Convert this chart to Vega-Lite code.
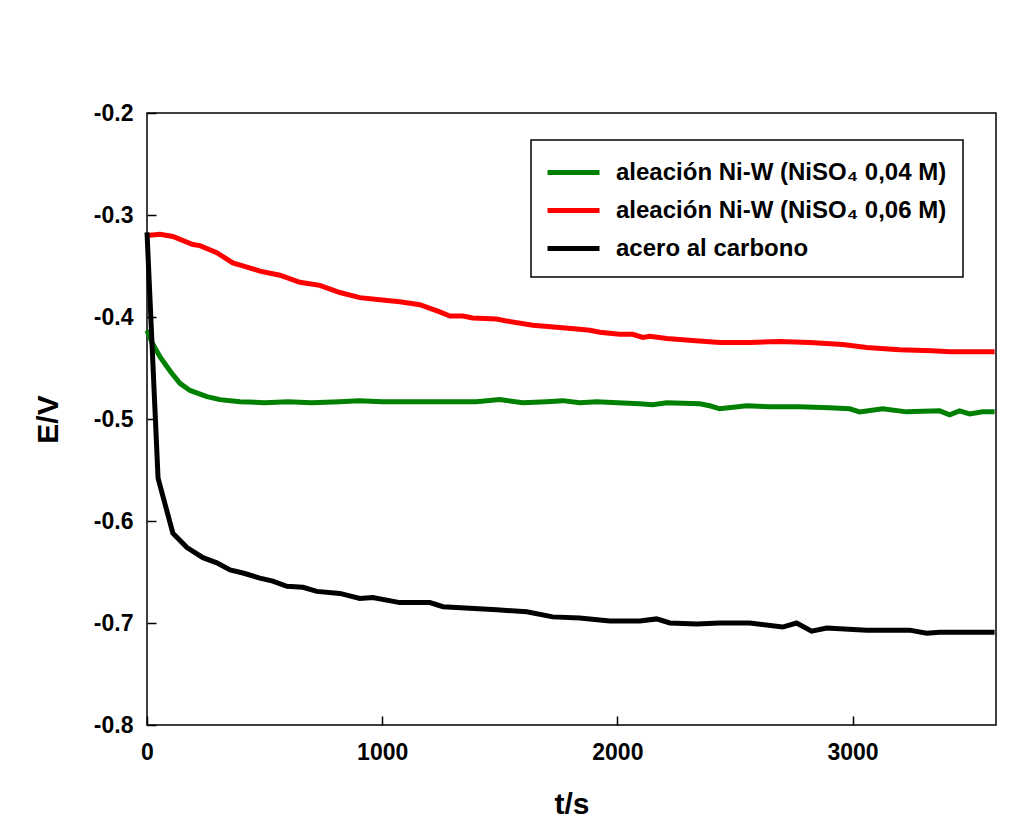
{
  "$schema": "https://vega.github.io/schema/vega-lite/v6.json",
  "width": 849,
  "height": 612,
  "autosize": "none",
  "padding": {"left": 147, "top": 113, "right": 26, "bottom": 91},
  "background": "white",
  "config": {
    "view": {"stroke": "black", "strokeWidth": 1.5},
    "font": "Liberation Sans",
    "legend": {"strokeWidth": 1.5}
  },
  "data": {
    "values": [
      {"t": 0, "E": -0.413, "s": "aleación Ni-W (NiSO₄ 0,04 M)"},
      {"t": 21, "E": -0.425, "s": "aleación Ni-W (NiSO₄ 0,04 M)"},
      {"t": 55, "E": -0.439, "s": "aleación Ni-W (NiSO₄ 0,04 M)"},
      {"t": 98, "E": -0.453, "s": "aleación Ni-W (NiSO₄ 0,04 M)"},
      {"t": 140, "E": -0.465, "s": "aleación Ni-W (NiSO₄ 0,04 M)"},
      {"t": 183, "E": -0.472, "s": "aleación Ni-W (NiSO₄ 0,04 M)"},
      {"t": 255, "E": -0.478, "s": "aleación Ni-W (NiSO₄ 0,04 M)"},
      {"t": 310, "E": -0.481, "s": "aleación Ni-W (NiSO₄ 0,04 M)"},
      {"t": 395, "E": -0.483, "s": "aleación Ni-W (NiSO₄ 0,04 M)"},
      {"t": 500, "E": -0.484, "s": "aleación Ni-W (NiSO₄ 0,04 M)"},
      {"t": 600, "E": -0.483, "s": "aleación Ni-W (NiSO₄ 0,04 M)"},
      {"t": 700, "E": -0.484, "s": "aleación Ni-W (NiSO₄ 0,04 M)"},
      {"t": 820, "E": -0.483, "s": "aleación Ni-W (NiSO₄ 0,04 M)"},
      {"t": 900, "E": -0.482, "s": "aleación Ni-W (NiSO₄ 0,04 M)"},
      {"t": 1000, "E": -0.483, "s": "aleación Ni-W (NiSO₄ 0,04 M)"},
      {"t": 1100, "E": -0.483, "s": "aleación Ni-W (NiSO₄ 0,04 M)"},
      {"t": 1245, "E": -0.483, "s": "aleación Ni-W (NiSO₄ 0,04 M)"},
      {"t": 1400, "E": -0.483, "s": "aleación Ni-W (NiSO₄ 0,04 M)"},
      {"t": 1500, "E": -0.481, "s": "aleación Ni-W (NiSO₄ 0,04 M)"},
      {"t": 1598, "E": -0.484, "s": "aleación Ni-W (NiSO₄ 0,04 M)"},
      {"t": 1700, "E": -0.483, "s": "aleación Ni-W (NiSO₄ 0,04 M)"},
      {"t": 1768, "E": -0.482, "s": "aleación Ni-W (NiSO₄ 0,04 M)"},
      {"t": 1840, "E": -0.484, "s": "aleación Ni-W (NiSO₄ 0,04 M)"},
      {"t": 1912, "E": -0.483, "s": "aleación Ni-W (NiSO₄ 0,04 M)"},
      {"t": 2000, "E": -0.484, "s": "aleación Ni-W (NiSO₄ 0,04 M)"},
      {"t": 2095, "E": -0.485, "s": "aleación Ni-W (NiSO₄ 0,04 M)"},
      {"t": 2150, "E": -0.486, "s": "aleación Ni-W (NiSO₄ 0,04 M)"},
      {"t": 2210, "E": -0.484, "s": "aleación Ni-W (NiSO₄ 0,04 M)"},
      {"t": 2350, "E": -0.485, "s": "aleación Ni-W (NiSO₄ 0,04 M)"},
      {"t": 2393, "E": -0.487, "s": "aleación Ni-W (NiSO₄ 0,04 M)"},
      {"t": 2435, "E": -0.49, "s": "aleación Ni-W (NiSO₄ 0,04 M)"},
      {"t": 2550, "E": -0.487, "s": "aleación Ni-W (NiSO₄ 0,04 M)"},
      {"t": 2650, "E": -0.488, "s": "aleación Ni-W (NiSO₄ 0,04 M)"},
      {"t": 2775, "E": -0.488, "s": "aleación Ni-W (NiSO₄ 0,04 M)"},
      {"t": 2900, "E": -0.489, "s": "aleación Ni-W (NiSO₄ 0,04 M)"},
      {"t": 2988, "E": -0.49, "s": "aleación Ni-W (NiSO₄ 0,04 M)"},
      {"t": 3030, "E": -0.493, "s": "aleación Ni-W (NiSO₄ 0,04 M)"},
      {"t": 3128, "E": -0.49, "s": "aleación Ni-W (NiSO₄ 0,04 M)"},
      {"t": 3230, "E": -0.493, "s": "aleación Ni-W (NiSO₄ 0,04 M)"},
      {"t": 3370, "E": -0.492, "s": "aleación Ni-W (NiSO₄ 0,04 M)"},
      {"t": 3413, "E": -0.496, "s": "aleación Ni-W (NiSO₄ 0,04 M)"},
      {"t": 3455, "E": -0.492, "s": "aleación Ni-W (NiSO₄ 0,04 M)"},
      {"t": 3498, "E": -0.495, "s": "aleación Ni-W (NiSO₄ 0,04 M)"},
      {"t": 3553, "E": -0.493, "s": "aleación Ni-W (NiSO₄ 0,04 M)"},
      {"t": 3604, "E": -0.493, "s": "aleación Ni-W (NiSO₄ 0,04 M)"},

      {"t": 0, "E": -0.32, "s": "aleación Ni-W (NiSO₄ 0,06 M)"},
      {"t": 55, "E": -0.319, "s": "aleación Ni-W (NiSO₄ 0,06 M)"},
      {"t": 110, "E": -0.321, "s": "aleación Ni-W (NiSO₄ 0,06 M)"},
      {"t": 195, "E": -0.329, "s": "aleación Ni-W (NiSO₄ 0,06 M)"},
      {"t": 225, "E": -0.33, "s": "aleación Ni-W (NiSO₄ 0,06 M)"},
      {"t": 297, "E": -0.337, "s": "aleación Ni-W (NiSO₄ 0,06 M)"},
      {"t": 365, "E": -0.347, "s": "aleación Ni-W (NiSO₄ 0,06 M)"},
      {"t": 425, "E": -0.351, "s": "aleación Ni-W (NiSO₄ 0,06 M)"},
      {"t": 480, "E": -0.355, "s": "aleación Ni-W (NiSO₄ 0,06 M)"},
      {"t": 565, "E": -0.359, "s": "aleación Ni-W (NiSO₄ 0,06 M)"},
      {"t": 650, "E": -0.366, "s": "aleación Ni-W (NiSO₄ 0,06 M)"},
      {"t": 735, "E": -0.369, "s": "aleación Ni-W (NiSO₄ 0,06 M)"},
      {"t": 820, "E": -0.376, "s": "aleación Ni-W (NiSO₄ 0,06 M)"},
      {"t": 905, "E": -0.381, "s": "aleación Ni-W (NiSO₄ 0,06 M)"},
      {"t": 990, "E": -0.383, "s": "aleación Ni-W (NiSO₄ 0,06 M)"},
      {"t": 1075, "E": -0.385, "s": "aleación Ni-W (NiSO₄ 0,06 M)"},
      {"t": 1160, "E": -0.388, "s": "aleación Ni-W (NiSO₄ 0,06 M)"},
      {"t": 1245, "E": -0.395, "s": "aleación Ni-W (NiSO₄ 0,06 M)"},
      {"t": 1288, "E": -0.399, "s": "aleación Ni-W (NiSO₄ 0,06 M)"},
      {"t": 1343, "E": -0.399, "s": "aleación Ni-W (NiSO₄ 0,06 M)"},
      {"t": 1385, "E": -0.401, "s": "aleación Ni-W (NiSO₄ 0,06 M)"},
      {"t": 1487, "E": -0.402, "s": "aleación Ni-W (NiSO₄ 0,06 M)"},
      {"t": 1530, "E": -0.404, "s": "aleación Ni-W (NiSO₄ 0,06 M)"},
      {"t": 1640, "E": -0.408, "s": "aleación Ni-W (NiSO₄ 0,06 M)"},
      {"t": 1742, "E": -0.41, "s": "aleación Ni-W (NiSO₄ 0,06 M)"},
      {"t": 1840, "E": -0.412, "s": "aleación Ni-W (NiSO₄ 0,06 M)"},
      {"t": 1883, "E": -0.413, "s": "aleación Ni-W (NiSO₄ 0,06 M)"},
      {"t": 1925, "E": -0.415, "s": "aleación Ni-W (NiSO₄ 0,06 M)"},
      {"t": 2010, "E": -0.417, "s": "aleación Ni-W (NiSO₄ 0,06 M)"},
      {"t": 2065, "E": -0.417, "s": "aleación Ni-W (NiSO₄ 0,06 M)"},
      {"t": 2108, "E": -0.42, "s": "aleación Ni-W (NiSO₄ 0,06 M)"},
      {"t": 2138, "E": -0.419, "s": "aleación Ni-W (NiSO₄ 0,06 M)"},
      {"t": 2210, "E": -0.421, "s": "aleación Ni-W (NiSO₄ 0,06 M)"},
      {"t": 2320, "E": -0.423, "s": "aleación Ni-W (NiSO₄ 0,06 M)"},
      {"t": 2435, "E": -0.425, "s": "aleación Ni-W (NiSO₄ 0,06 M)"},
      {"t": 2563, "E": -0.425, "s": "aleación Ni-W (NiSO₄ 0,06 M)"},
      {"t": 2690, "E": -0.424, "s": "aleación Ni-W (NiSO₄ 0,06 M)"},
      {"t": 2818, "E": -0.425, "s": "aleación Ni-W (NiSO₄ 0,06 M)"},
      {"t": 2958, "E": -0.427, "s": "aleación Ni-W (NiSO₄ 0,06 M)"},
      {"t": 3060, "E": -0.43, "s": "aleación Ni-W (NiSO₄ 0,06 M)"},
      {"t": 3200, "E": -0.432, "s": "aleación Ni-W (NiSO₄ 0,06 M)"},
      {"t": 3340, "E": -0.433, "s": "aleación Ni-W (NiSO₄ 0,06 M)"},
      {"t": 3413, "E": -0.434, "s": "aleación Ni-W (NiSO₄ 0,06 M)"},
      {"t": 3604, "E": -0.434, "s": "aleación Ni-W (NiSO₄ 0,06 M)"},

      {"t": 0, "E": -0.317, "s": "acero al carbono"},
      {"t": 47, "E": -0.558, "s": "acero al carbono"},
      {"t": 110, "E": -0.612, "s": "acero al carbono"},
      {"t": 170, "E": -0.626, "s": "acero al carbono"},
      {"t": 238, "E": -0.636, "s": "acero al carbono"},
      {"t": 297, "E": -0.641, "s": "acero al carbono"},
      {"t": 353, "E": -0.648, "s": "acero al carbono"},
      {"t": 408, "E": -0.651, "s": "acero al carbono"},
      {"t": 480, "E": -0.656, "s": "acero al carbono"},
      {"t": 535, "E": -0.659, "s": "acero al carbono"},
      {"t": 595, "E": -0.664, "s": "acero al carbono"},
      {"t": 663, "E": -0.665, "s": "acero al carbono"},
      {"t": 722, "E": -0.669, "s": "acero al carbono"},
      {"t": 820, "E": -0.671, "s": "acero al carbono"},
      {"t": 905, "E": -0.676, "s": "acero al carbono"},
      {"t": 960, "E": -0.675, "s": "acero al carbono"},
      {"t": 1075, "E": -0.68, "s": "acero al carbono"},
      {"t": 1203, "E": -0.68, "s": "acero al carbono"},
      {"t": 1258, "E": -0.684, "s": "acero al carbono"},
      {"t": 1487, "E": -0.687, "s": "acero al carbono"},
      {"t": 1615, "E": -0.689, "s": "acero al carbono"},
      {"t": 1725, "E": -0.694, "s": "acero al carbono"},
      {"t": 1840, "E": -0.695, "s": "acero al carbono"},
      {"t": 1968, "E": -0.698, "s": "acero al carbono"},
      {"t": 2095, "E": -0.698, "s": "acero al carbono"},
      {"t": 2167, "E": -0.696, "s": "acero al carbono"},
      {"t": 2223, "E": -0.7, "s": "acero al carbono"},
      {"t": 2337, "E": -0.701, "s": "acero al carbono"},
      {"t": 2435, "E": -0.7, "s": "acero al carbono"},
      {"t": 2563, "E": -0.7, "s": "acero al carbono"},
      {"t": 2703, "E": -0.704, "s": "acero al carbono"},
      {"t": 2762, "E": -0.7, "s": "acero al carbono"},
      {"t": 2826, "E": -0.708, "s": "acero al carbono"},
      {"t": 2890, "E": -0.705, "s": "acero al carbono"},
      {"t": 3060, "E": -0.707, "s": "acero al carbono"},
      {"t": 3243, "E": -0.707, "s": "acero al carbono"},
      {"t": 3315, "E": -0.71, "s": "acero al carbono"},
      {"t": 3370, "E": -0.709, "s": "acero al carbono"},
      {"t": 3604, "E": -0.709, "s": "acero al carbono"}
    ]
  },
  "encoding": {
    "x": {
      "field": "t",
      "type": "quantitative",
      "scale": {"domain": [0, 3610], "nice": false, "zero": false},
      "axis": {
        "title": "t/s",
        "values": [0, 1000, 2000, 3000],
        "format": "d",
        "domain": false,
        "grid": false,
        "labelFlush": false,
        "tickSize": -9,
        "tickColor": "black",
        "tickWidth": 1.5,
        "labelFont": "Liberation Sans",
        "labelFontSize": 23,
        "labelFontWeight": "bold",
        "labelColor": "black",
        "labelPadding": 25,
        "titleFont": "Liberation Sans",
        "titleFontSize": 30,
        "titleFontWeight": "bold",
        "titleColor": "black",
        "titlePadding": 25
      }
    },
    "y": {
      "field": "E",
      "type": "quantitative",
      "scale": {"domain": [-0.8, -0.2], "nice": false, "zero": false},
      "axis": {
        "title": "E/V",
        "values": [-0.8, -0.7, -0.6, -0.5, -0.4, -0.3, -0.2],
        "labelExpr": "replace(format(datum.value, '.1f'), '−', '-')",
        "domain": false,
        "grid": false,
        "labelFlush": false,
        "tickSize": -9,
        "tickColor": "black",
        "tickWidth": 1.5,
        "labelFont": "Liberation Sans",
        "labelFontSize": 23,
        "labelFontWeight": "bold",
        "labelColor": "black",
        "labelPadding": 23,
        "titleFont": "Liberation Sans",
        "titleFontSize": 30,
        "titleFontWeight": "bold",
        "titleColor": "black",
        "titlePadding": 30
      }
    },
    "color": {
      "field": "s",
      "type": "nominal",
      "scale": {
        "domain": ["aleación Ni-W (NiSO₄ 0,04 M)", "aleación Ni-W (NiSO₄ 0,06 M)", "acero al carbono"],
        "range": ["#008000", "#ff0000", "#000000"]
      },
      "legend": {
        "title": null,
        "orient": "none",
        "legendX": 384,
        "legendY": 27,
        "strokeColor": "black",
        "padding": 16,
        "symbolType": "M-1.143,0H2.571",
        "symbolSize": 784,
        "symbolStrokeWidth": 5,
        "labelFont": "Liberation Sans",
        "labelFontSize": 24,
        "labelFontWeight": "bold",
        "labelColor": "black",
        "labelOffset": 36,
        "labelLimit": 600,
        "rowPadding": 9
      }
    }
  },
  "layer": [
    {
      "transform": [{"filter": "datum.s === 'aleación Ni-W (NiSO₄ 0,04 M)'"}],
      "mark": {"type": "line", "strokeWidth": 5, "clip": false}
    },
    {
      "transform": [{"filter": "datum.s === 'aleación Ni-W (NiSO₄ 0,06 M)'"}],
      "mark": {"type": "line", "strokeWidth": 5, "clip": false}
    },
    {
      "transform": [{"filter": "datum.s === 'acero al carbono'"}],
      "mark": {"type": "line", "strokeWidth": 5, "clip": false}
    }
  ]
}
